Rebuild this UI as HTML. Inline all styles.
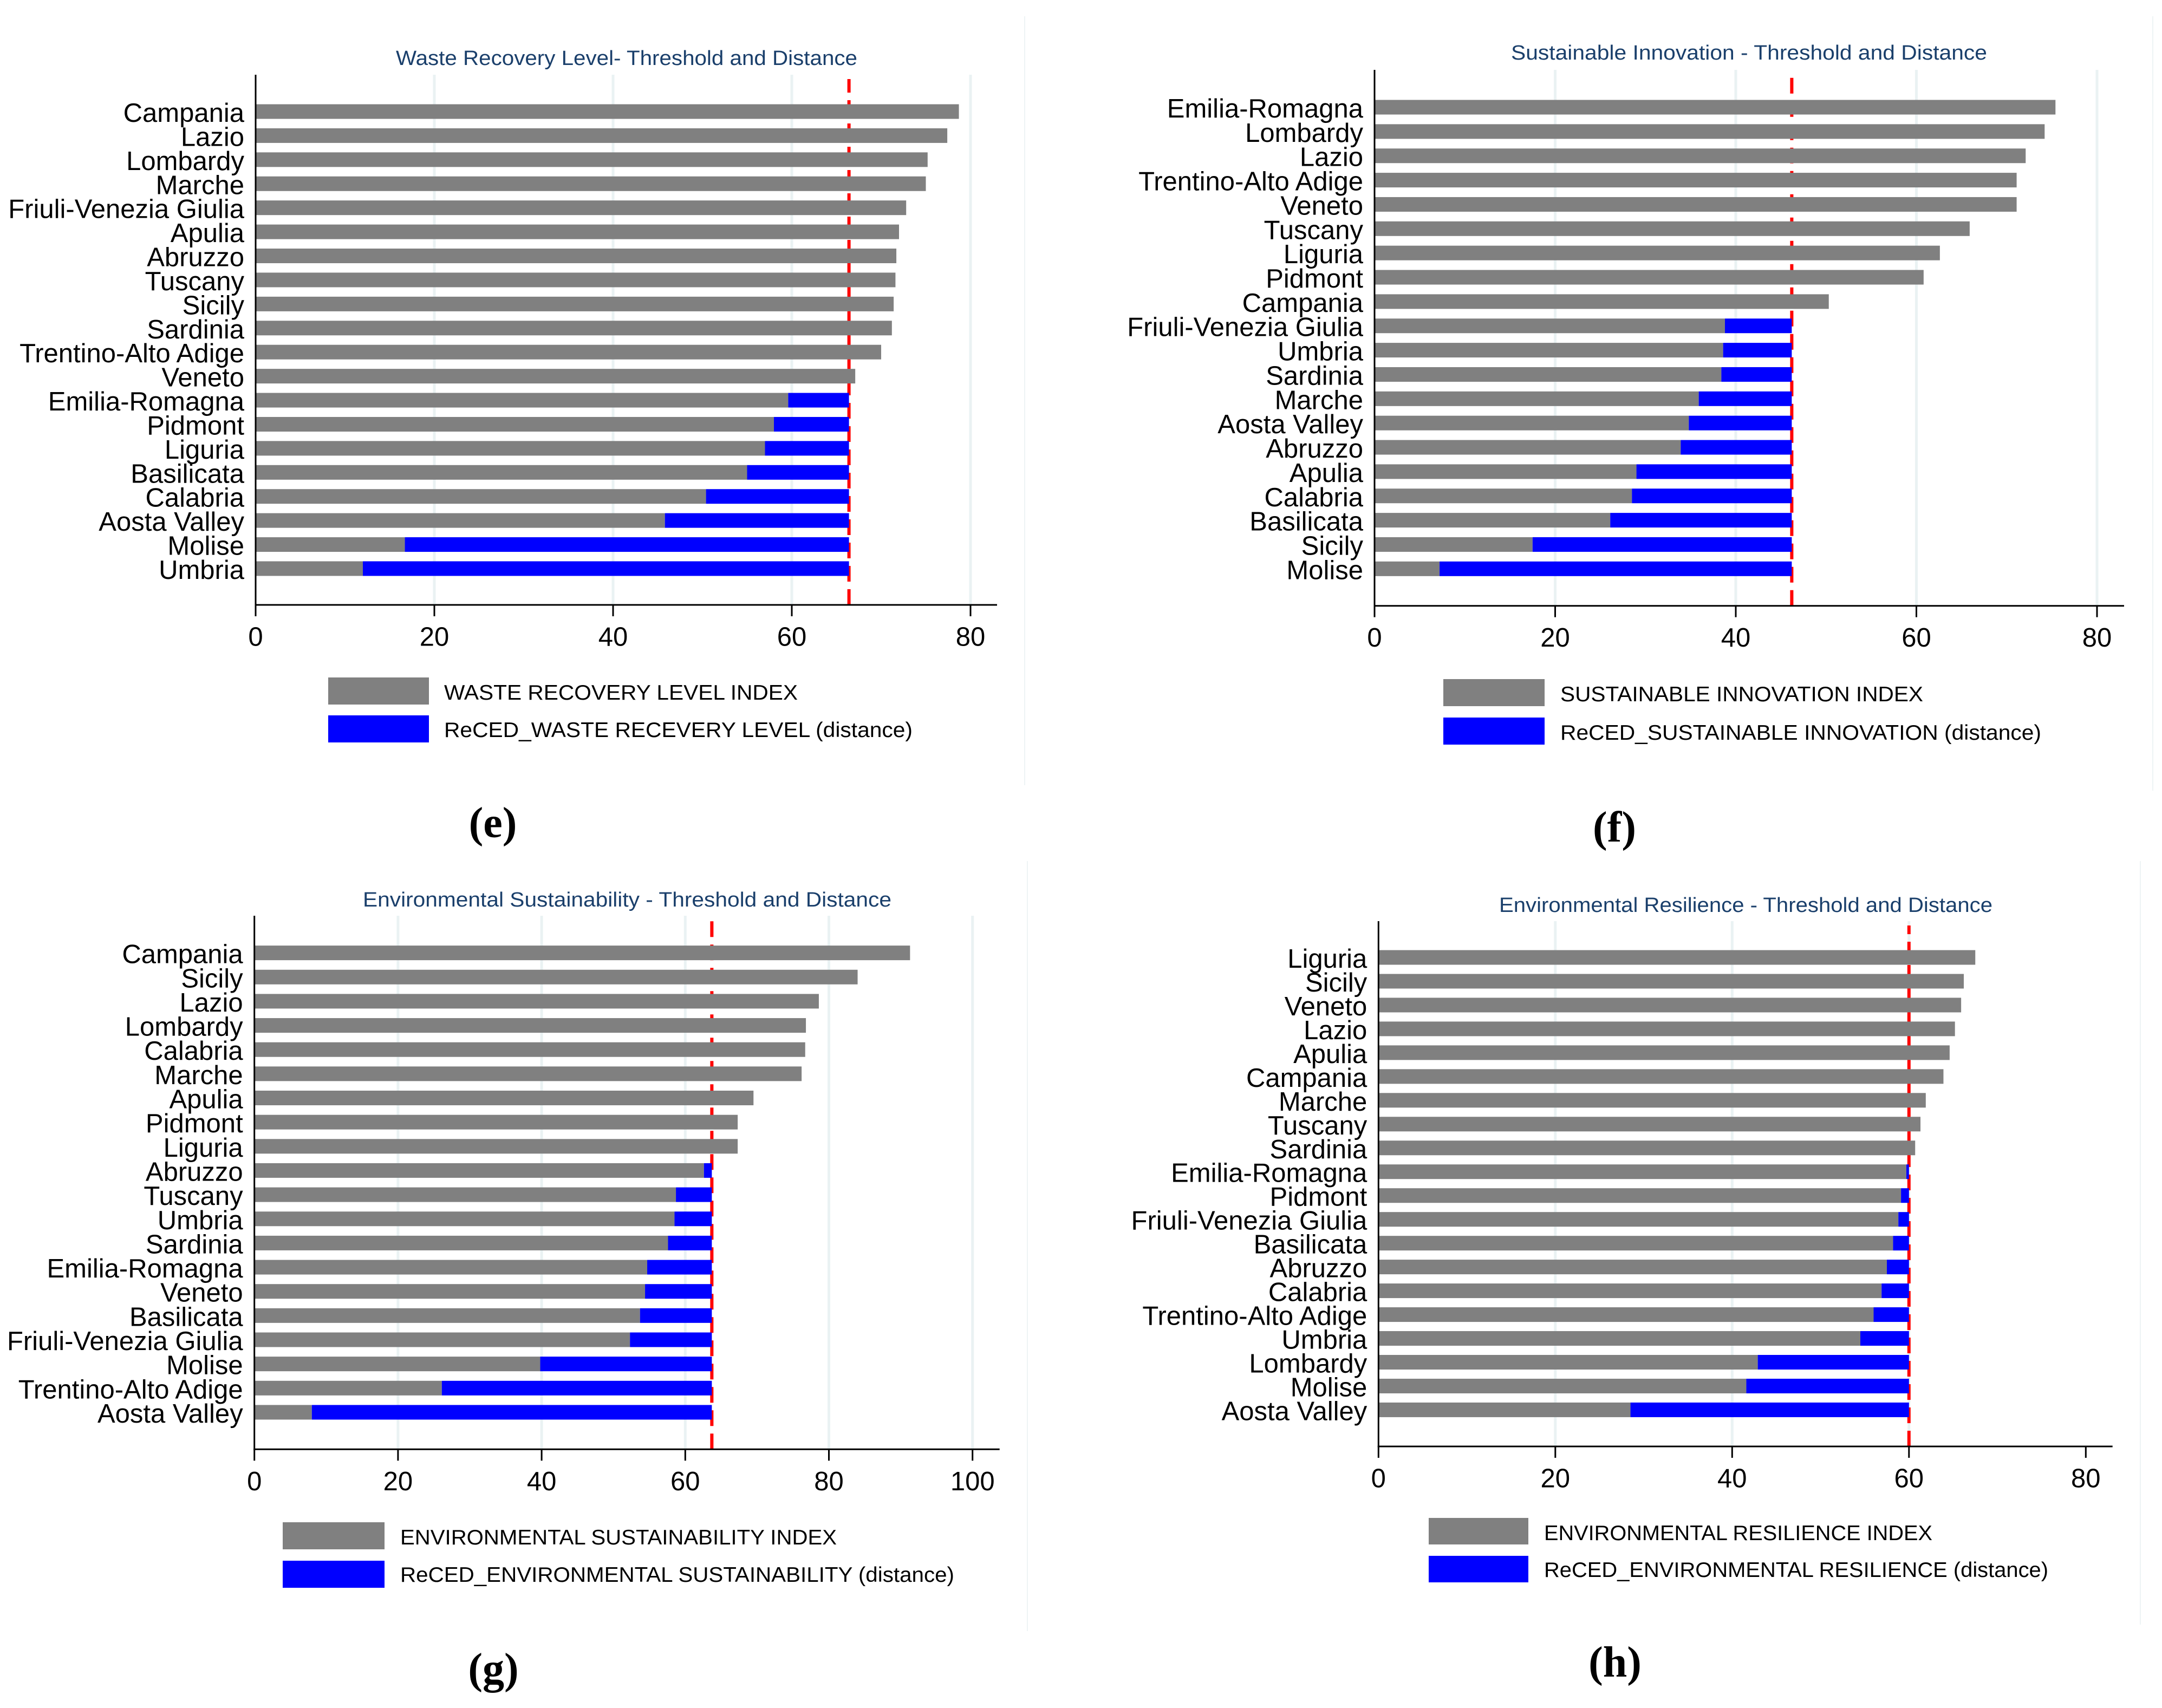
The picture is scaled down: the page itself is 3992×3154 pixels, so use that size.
<!DOCTYPE html>
<html lang="en">
<head>
<meta charset="utf-8">
<title>Threshold and Distance charts</title>
<style>
html,body{margin:0;padding:0;background:#fff;width:3992px;height:3154px;overflow:hidden}
svg{display:block;position:absolute;left:0;top:0}
text{font-family:"Liberation Sans",Arial,sans-serif;fill:#000}
</style>
</head>
<body>
<svg id="fig" xmlns="http://www.w3.org/2000/svg" width="3992" height="3154" viewBox="0 0 3992 3154"></svg>
<script>
// ---------- Panel (e) data ----------
const wasteCategories = ["Campania","Lazio","Lombardy","Marche","Friuli-Venezia Giulia","Apulia","Abruzzo","Tuscany","Sicily","Sardinia","Trentino-Alto Adige","Veneto","Emilia-Romagna","Pidmont","Liguria","Basilicata","Calabria","Aosta Valley","Molise","Umbria"];
const wasteValues = [78.7,77.4,75.2,75.0,72.8,72.0,71.7,71.6,71.4,71.2,70.0,67.1,59.6,58.0,57.0,55.0,50.4,45.8,16.7,12.0];
const wasteThreshold = 66.4;
const wasteTicks = [0,20,40,60,80];
const wasteGrid = [20,40,60,80];

// ---------- Panel (f) data ----------
const innovationCategories = ["Emilia-Romagna","Lombardy","Lazio","Trentino-Alto Adige","Veneto","Tuscany","Liguria","Pidmont","Campania","Friuli-Venezia Giulia","Umbria","Sardinia","Marche","Aosta Valley","Abruzzo","Apulia","Calabria","Basilicata","Sicily","Molise"];
const innovationValues = [75.4,74.2,72.1,71.1,71.1,65.9,62.6,60.8,50.3,38.8,38.6,38.4,35.9,34.8,33.9,29.0,28.5,26.1,17.5,7.2];
const innovationThreshold = 46.2;
const innovationTicks = [0,20,40,60,80];
const innovationGrid = [20,40,60,80];

// ---------- Panel (g) data ----------
const sustainabilityCategories = ["Campania","Sicily","Lazio","Lombardy","Calabria","Marche","Apulia","Pidmont","Liguria","Abruzzo","Tuscany","Umbria","Sardinia","Emilia-Romagna","Veneto","Basilicata","Friuli-Venezia Giulia","Molise","Trentino-Alto Adige","Aosta Valley"];
const sustainabilityValues = [91.3,84.0,78.6,76.8,76.7,76.2,69.5,67.3,67.3,62.6,58.7,58.5,57.6,54.7,54.4,53.7,52.3,39.8,26.1,8.0];
const sustainabilityThreshold = 63.7;
const sustainabilityTicks = [0,20,40,60,80,100];
const sustainabilityGrid = [20,40,60,80,100];

// ---------- Panel (h) data ----------
const resilienceCategories = ["Liguria","Sicily","Veneto","Lazio","Apulia","Campania","Marche","Tuscany","Sardinia","Emilia-Romagna","Pidmont","Friuli-Venezia Giulia","Basilicata","Abruzzo","Calabria","Trentino-Alto Adige","Umbria","Lombardy","Molise","Aosta Valley"];
const resilienceValues = [67.5,66.2,65.9,65.2,64.6,63.9,61.9,61.3,60.7,59.7,59.1,58.8,58.2,57.5,56.9,56.0,54.5,42.9,41.6,28.5];
const resilienceThreshold = 60.0;
const resilienceTicks = [0,20,40,60,80];
const resilienceGrid = [20,40,60];

// ---------- Panel layouts (geometry only) ----------
const panels = [
 {key:"e",cats:wasteCategories,vals:wasteValues,thr:wasteThreshold,ticks:wasteTicks,grid:wasteGrid,
  title:"Waste Recovery Level- Threshold and Distance",titleX:731,titleY:120,titleW:852,
  x0:472,xUnit:16.5,axisY:1117,axisEnd:1841,axisTop:138,barY0:206,barPitch:44.42,
  swX:606,swW:186,swY:[1251,1321],swH:50,lgX:820,lgY:[1292,1361],
  lg:["WASTE RECOVERY LEVEL INDEX","ReCED_WASTE RECEVERY LEVEL (distance)"],lgW:[653,865],
  tag:"(e)",tagX:910,tagY:1546,divX:1892,divY1:30,divY2:1450},
 {key:"f",cats:innovationCategories,vals:innovationValues,thr:innovationThreshold,ticks:innovationTicks,grid:innovationGrid,
  title:"Sustainable Innovation - Threshold and Distance",titleX:2790,titleY:110,titleW:879,
  x0:2538,xUnit:16.675,axisY:1118.7,axisEnd:3922,axisTop:129,barY0:198,barPitch:44.86,
  swX:2665,swW:187,swY:[1254,1325],swH:50,lgX:2881,lgY:[1295,1366],
  lg:["SUSTAINABLE INNOVATION INDEX","ReCED_SUSTAINABLE INNOVATION (distance)"],lgW:[670,888],
  tag:"(f)",tagX:2981,tagY:1554,divX:3975,divY1:30,divY2:1460},
 {key:"g",cats:sustainabilityCategories,vals:sustainabilityValues,thr:sustainabilityThreshold,ticks:sustainabilityTicks,grid:sustainabilityGrid,
  title:"Environmental Sustainability - Threshold and Distance",titleX:670,titleY:1674,titleW:976,
  x0:469.7,xUnit:13.26,axisY:2676.3,axisEnd:1845.7,axisTop:1691,barY0:1759.6,barPitch:44.65,
  swX:522,swW:188,swY:[2811,2882],swH:50,lgX:739,lgY:[2852,2921],
  lg:["ENVIRONMENTAL SUSTAINABILITY INDEX","ReCED_ENVIRONMENTAL SUSTAINABILITY (distance)"],lgW:[806,1023],
  tag:"(g)",tagX:911,tagY:3108,divX:1897,divY1:1590,divY2:3012},
 {key:"h",cats:resilienceCategories,vals:resilienceValues,thr:resilienceThreshold,ticks:resilienceTicks,grid:resilienceGrid,
  title:"Environmental Resilience - Threshold and Distance",titleX:2768,titleY:1684,titleW:911,
  x0:2545.3,xUnit:16.325,axisY:2671,axisEnd:3900.7,axisTop:1701,barY0:1768,barPitch:43.97,
  swX:2638,swW:184,swY:[2803,2873],swH:49,lgX:2851,lgY:[2844,2912],
  lg:["ENVIRONMENTAL RESILIENCE INDEX","ReCED_ENVIRONMENTAL RESILIENCE (distance)"],lgW:[717,931],
  tag:"(h)",tagX:2982,tagY:3096,divX:3952,divY1:1590,divY2:3000}
];

const NS = "http://www.w3.org/2000/svg";
const root = document.getElementById("fig");

function make(tag, attrs, parent, txt){
  const n = document.createElementNS(NS, tag);
  for (const k in attrs) n.setAttribute(k, attrs[k]);
  if (txt !== undefined) n.textContent = txt;
  parent.appendChild(n);
  return n;
}

panels.forEach(function(p){
  const xScale = function(v){ return p.x0 + v * p.xUnit; };
  const yScale = function(i){ return p.barY0 + i * p.barPitch; };
  const BAR_H = 27;

  const g = make("g", {}, root);
  
  

  const divider = make("line", {x1:p.divX,x2:p.divX,y1:p.divY1,y2:p.divY2,stroke:"#eef4f5","stroke-width":2}, g);
  
  

  const title = make("text", {x:p.titleX,y:p.titleY,"font-size":38,textLength:p.titleW,lengthAdjust:"spacingAndGlyphs",style:"fill:#1a3f6b"}, g, p.title);
  
  

  // gridlines
  p.grid.forEach(function(t){
    const gl = make("line", {x1:xScale(t),x2:xScale(t),y1:p.axisTop,y2:p.axisY,stroke:"#eaf2f3","stroke-width":5}, g);
    
    
  });

  // threshold line sits under the bars
  const thr = make("line", {x1:xScale(p.thr),x2:xScale(p.thr),y1:p.axisY,y2:p.axisTop+8,stroke:"#ff0000","stroke-width":6,"stroke-dasharray":"29 14"}, g);
  
  

  // bars and labels
  p.cats.forEach(function(c, i){
    const cy = yScale(i);
    const v = p.vals[i];
    const bar = make("rect", {x:xScale(0),y:cy-BAR_H/2,width:xScale(v)-xScale(0),height:BAR_H,fill:"#808080"}, g);
    
    
    if (v < p.thr) {
      const dist = make("rect", {x:xScale(v),y:cy-BAR_H/2,width:xScale(p.thr)-xScale(v),height:BAR_H,fill:"#0000ff"}, g);
      
      
    }
    const lab = make("text", {x:p.x0-21,y:cy+19,"font-size":49,"text-anchor":"end"}, g, c);
    
    
  });

  // axes
  const yAxis = make("line", {x1:p.x0,x2:p.x0,y1:p.axisTop,y2:p.axisY+1.5,stroke:"#000","stroke-width":3}, g);
  
  
  const xAxis = make("line", {x1:p.x0-1.5,x2:p.axisEnd,y1:p.axisY,y2:p.axisY,stroke:"#000","stroke-width":3}, g);
  
  

  p.ticks.forEach(function(t){
    const tk = make("line", {x1:xScale(t),x2:xScale(t),y1:p.axisY,y2:p.axisY+21,stroke:"#000","stroke-width":3}, g);
    
    
    const tl = make("text", {x:xScale(t),y:p.axisY+75.5,"font-size":49,"text-anchor":"middle"}, g, String(t));
    
    
  });

  // legend
  ["#808080","#0000ff"].forEach(function(col, i){
    const sw = make("rect", {x:p.swX,y:p.swY[i],width:p.swW,height:p.swH,fill:col}, g);
    
    
    const lt = make("text", {x:p.lgX,y:p.lgY[i],"font-size":38.5,textLength:p.lgW[i],lengthAdjust:"spacingAndGlyphs"}, g, p.lg[i]);
    
    
  });

  // panel letter
  const tag = make("text", {x:p.tagX,y:p.tagY,"font-size":80,"text-anchor":"middle","font-weight":"bold",style:'font-family:"Liberation Serif",serif'}, g, p.tag);
  
  
});
</script>
</body>
</html>
